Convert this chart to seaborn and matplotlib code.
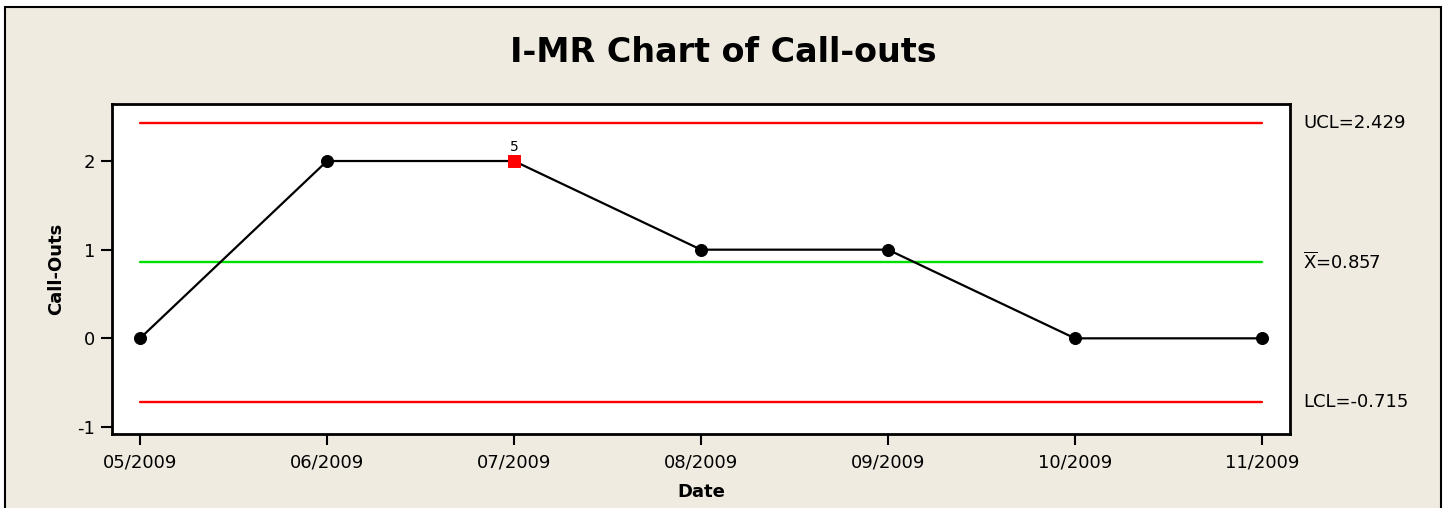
import matplotlib
matplotlib.use("Agg")
import matplotlib.pyplot as plt
import matplotlib.patches as mpatches
import seaborn as sns
import pandas as pd
import numpy as np

dates = ["05/2009", "06/2009", "07/2009", "08/2009", "09/2009", "10/2009", "11/2009"]
call_outs = [0, 2, 2, 1, 1, 0, 0]
flagged = [False, False, True, False, False, False, False]
flag_labels = ["", "", "5", "", "", "", ""]
ucl = 2.429
center = 0.857
lcl = -0.715

sns.set_style("white")
plt.rcParams['font.family'] = ['DejaVu Sans']
plt.rcParams['text.color'] = 'black'
plt.rcParams['axes.labelcolor'] = 'black'
plt.rcParams['xtick.color'] = 'black'
plt.rcParams['ytick.color'] = 'black'

df = pd.DataFrame({"idx": np.arange(len(dates)), "date": dates,
                   "value": call_outs, "flag": flagged, "lab": flag_labels})

W, H = 1448, 508
fig = plt.figure(figsize=(W/100, H/100), dpi=100)
fig.patch.set_facecolor("white")
bg = mpatches.Rectangle((5/W, -0.1), (1441-5)/W, 1.1 - 7/H, transform=fig.transFigure,
                        facecolor="#EFEBE1", edgecolor="black", linewidth=1.5, zorder=-10)
fig.patches.append(bg)

ax = fig.add_axes([112/W, 1 - 434/H, (1290-112)/W, (434-104)/H])
ax.set_zorder(5)
ax.set_facecolor("white")

n = len(dates)
ax.plot([0, n-1], [ucl, ucl], color="#FF0000", lw=1.7, zorder=1)
ax.plot([0, n-1], [lcl, lcl], color="#FF0000", lw=1.7, zorder=1)
ax.plot([0, n-1], [center, center], color="#00E000", lw=1.7, zorder=1)

sns.lineplot(data=df, x="idx", y="value", color="black", lw=1.6, ax=ax, zorder=2)
sns.scatterplot(data=df[~df.flag], x="idx", y="value", color="black", s=75,
                marker="o", edgecolor="black", ax=ax, zorder=3)
sns.scatterplot(data=df[df.flag], x="idx", y="value", color="#FF0000", s=75,
                marker="s", edgecolor="#FF0000", ax=ax, zorder=3)
for _, r in df[df.flag].iterrows():
    ax.text(r.idx, r.value + 0.08, r.lab, ha="center", va="bottom", fontsize=10)

ax.set_xlim(-0.15, 6.15)
ax.set_ylim(-1.079, 2.643)
ax.set_xticks(np.arange(n))
ax.set_xticklabels(dates)
ax.set_yticks([-1, 0, 1, 2])
ax.set_yticklabels(["-1", "0", "1", "2"])
ax.tick_params(axis="both", direction="out", length=8, width=1.5, labelsize=13,
               color="black", bottom=True, left=True, pad=4)
ax.tick_params(axis="x", pad=6)
for s in ax.spines.values():
    s.set_color("black")
    s.set_linewidth(2)
ax.set_xlabel("Date", fontsize=13, fontweight="bold", labelpad=8)
ax.set_ylabel("Call-Outs", fontsize=13, fontweight="bold", labelpad=9)

fig.text(723/W, 1 - 52/H, "I-MR Chart of Call-outs", ha="center", va="center",
         fontsize=24, fontweight="bold")

tr = ax.get_yaxis_transform()
ax.text(1.011, ucl, "UCL=2.429", transform=tr, ha="left", va="center", fontsize=13, clip_on=False)
ax.text(1.011, center, r"$\overline{\mathrm{X}}$=0.857", transform=tr, ha="left", va="center", fontsize=13, clip_on=False)
ax.text(1.011, lcl, "LCL=-0.715", transform=tr, ha="left", va="center", fontsize=13, clip_on=False)

fig.savefig("out.png", dpi=100, facecolor=fig.get_facecolor())
